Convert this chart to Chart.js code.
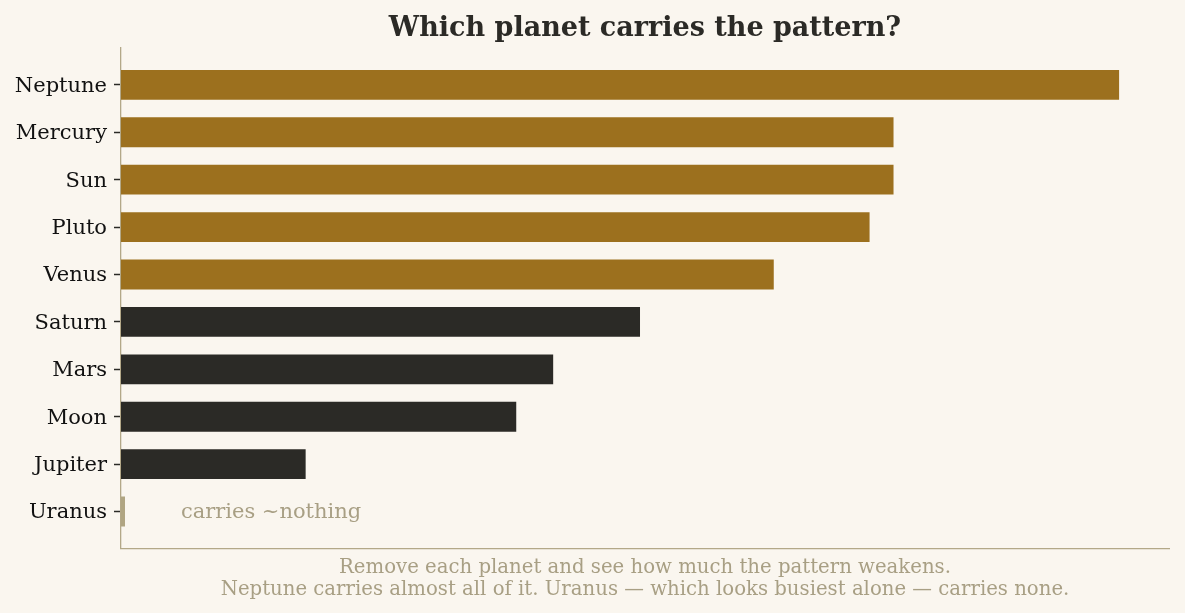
<!DOCTYPE html>
<html>
<head>
<meta charset="utf-8">
<script src="https://cdn.jsdelivr.net/npm/chart.js@4.4.1/dist/chart.umd.min.js"></script>
<style>
  html, body { margin: 0; padding: 0; background: #faf6ef; }
  #wrap { width: 1185px; height: 613px; }
</style>
</head>
<body>
<div id="wrap"><canvas id="chart"></canvas></div>
<script>
// Planets, ordered as in the picture (top to bottom)
const planets = ['Neptune', 'Mercury', 'Sun', 'Pluto', 'Venus', 'Saturn', 'Mars', 'Moon', 'Jupiter', 'Uranus'];
// How much the pattern weakens when each planet is removed (relative, Neptune = 1)
const weakening = [1.0, 0.774, 0.774, 0.750, 0.654, 0.520, 0.433, 0.396, 0.185, 0.004];
// Group of each bar: 'strong', 'mid', 'none'
const groups = ['strong', 'strong', 'strong', 'strong', 'strong', 'mid', 'mid', 'mid', 'mid', 'none'];

const groupColors = { strong: '#9c701e', mid: '#2b2a26', none: '#b0a582' };
const serif = '"DejaVu Serif", "Liberation Serif", serif';
const muted = '#a89f84';

// Draw the "carries ~nothing" note next to the last bar
const notePlugin = {
    id: 'note',
    afterDatasetsDraw(chart) {
        const ctx = chart.ctx;
        const x = chart.scales.x.getPixelForValue(0.06);
        const y = chart.scales.y.getPixelForValue(planets.length - 1);
        ctx.save();
        ctx.font = '21px ' + serif;
        ctx.fillStyle = muted;
        ctx.textAlign = 'left';
        ctx.textBaseline = 'middle';
        ctx.fillText('carries ~nothing', x, y + 1.5);
        ctx.restore();
    }
};

new Chart(document.getElementById('chart'), {
    type: 'bar',
    data: {
        datasets: [{
            data: weakening.map((v, i) => ({ x: v, y: i })),
            backgroundColor: groups.map(g => groupColors[g]),
            borderWidth: 0,
            barPercentage: 0.63,
            categoryPercentage: 1
        }]
    },
    options: {
        indexAxis: 'y',
        responsive: true,
        maintainAspectRatio: false,
        animation: false,
        layout: { padding: { left: 0, right: 16, top: 0, bottom: 12.5 } },
        plugins: {
            legend: { display: false },
            tooltip: { enabled: false },
            title: {
                display: true,
                fullSize: false,
                text: 'Which planet carries the pattern?',
                color: '#2b2a26',
                font: { family: serif, size: 27, weight: 'bold' },
                padding: { top: 12.5, bottom: 3 }
            }
        },
        scales: {
            x: {
                type: 'linear',
                min: 0,
                max: 1.05,
                ticks: { display: false },
                grid: { display: false, drawTicks: false },
                border: { display: true, color: '#b3a888', width: 1.3 },
                title: {
                    display: true,
                    text: [
                        'Remove each planet and see how much the pattern weakens.',
                        'Neptune carries almost all of it. Uranus \u2014 which looks busiest alone \u2014 carries none.'
                    ],
                    color: muted,
                    font: { family: serif, size: 19.7, lineHeight: 22 / 19.7 },
                    padding: { top: 8, bottom: 0 }
                }
            },
            y: {
                type: 'linear',
                reverse: true,
                offset: false,
                min: -0.78,
                max: planets.length - 1 + 0.78,
                afterBuildTicks: axis => { axis.ticks = planets.map((p, i) => ({ value: i })); },
                afterFit: axis => { axis.width = 121; },
                ticks: {
                    callback: v => planets[v],
                    color: '#111111',
                    font: { family: serif, size: 21 },
                    padding: 7,
                    labelOffset: 1.5,
                    autoSkip: false
                },
                grid: {
                    display: true,
                    offset: false,
                    drawOnChartArea: false,
                    drawTicks: true,
                    tickLength: 7,
                    tickColor: '#2b2a26',
                    tickWidth: 1.5
                },
                border: { display: true, color: '#b3a888', width: 1.3 }
            }
        }
    },
    plugins: [notePlugin]
});
</script>
</body>
</html>
